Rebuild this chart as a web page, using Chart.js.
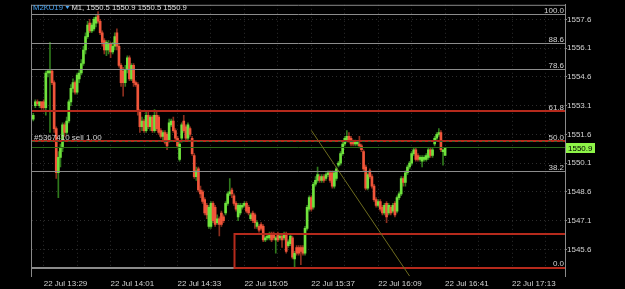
<!DOCTYPE html>
<html><head><meta charset="utf-8">
<style>html,body{margin:0;padding:0;background:#000;overflow:hidden}canvas{display:block}</style>
<script src="https://cdn.jsdelivr.net/npm/chart.js@4.4.1/dist/chart.umd.min.js"></script>
</head><body>
<canvas id="c" width="625" height="289"></canvas>
<script>
// ---------- data ----------
const symbol = 'M2KU19';
const timeframe = 'M1';
const dateLabel = '22 Jul';
const firstCandleTime = '13:24';

const openP = [
1552.4,1553.1,1553.3,1553.1,1553.3,1553.3,1553.0,1554.8,1554.8,1554.9,
1554.3,1551.9,1549.6,1550.4,1550.9,1552.1,1551.7,1552.3,1553.3,1554.0,
1554.3,1553.8,1554.5,1554.8,1555.3,1556.0,1556.7,1557.4,1557.0,1557.1,
1557.4,1557.8,1557.5,1556.9,1556.5,1556.0,1556.0,1556.3,1555.9,1556.2,
1556.9,1556.2,1555.2,1554.9,1554.3,1555.0,1555.6,1554.5,1555.2,1554.3,
1554.2,1552.8,1552.0,1552.3,1551.8,1552.6,1552.0,1552.5,1551.8,1552.6,
1552.5,1551.8,1551.5,1551.7,1551.6,1551.3,1552.1,1552.3,1551.8,1551.4,
1550.3,1551.4,1552.3,1552.0,1551.4,1551.9,1551.4,1550.5,1549.4,1549.8,
1548.7,1548.6,1548.2,1547.9,1546.8,1546.8,1548.0,1547.8,1547.0,1547.2,
1547.5,1547.3,1547.5,1548.0,1548.5,1548.7,1548.4,1548.0,1547.3,1547.5,
1547.8,1547.9,1548.0,1547.8,1547.2,1547.5,1547.4,1546.8,1546.8,1546.9,
1546.8,1546.1,1546.2,1546.2,1546.4,1546.4,1546.1,1546.4,1546.2,1546.3,
1546.2,1546.4,1545.8,1545.9,1546.2,1545.1,1545.7,1545.7,1545.7,1545.7,
1545.4,1546.7,1547.7,1548.3,1547.8,1549.0,1549.2,1549.4,1549.2,1549.4,
1549.3,1549.5,1549.6,1549.6,1548.9,1549.3,1550.0,1550.1,1550.6,1551.1,
1551.3,1551.5,1551.4,1551.2,1551.1,1551.1,1551.1,1551.0,1550.7,1549.9,
1548.8,1549.7,1549.4,1548.9,1548.2,1547.9,1548.1,1547.8,1547.5,1548.0,
1547.5,1547.8,1547.6,1548.0,1547.6,1548.3,1548.5,1549.3,1549.1,1549.6,
1549.9,1550.1,1550.6,1550.8,1550.5,1550.3,1550.2,1550.3,1550.3,1550.4,
1550.8,1550.5,1551.1,1551.4,1551.6,1551.7,1550.7,1550.5];

const highP = [
1552.7,1553.4,1553.4,1553.3,1553.3,1553.4,1554.9,1555.0,1556.4,1555.0,
1554.4,1552.0,1550.7,1551.1,1552.2,1552.2,1552.5,1553.4,1554.2,1554.5,
1554.4,1554.8,1555.0,1555.5,1556.2,1556.9,1557.5,1557.6,1557.4,1557.7,
1557.8,1558.0,1557.6,1557.0,1556.6,1556.5,1556.5,1556.4,1556.4,1556.9,
1557.1,1556.3,1555.3,1555.1,1555.2,1555.7,1555.7,1555.3,1555.3,1554.4,
1554.3,1552.9,1552.5,1552.4,1552.8,1552.8,1552.6,1552.6,1552.9,1552.8,
1552.6,1551.9,1551.8,1551.8,1551.7,1552.4,1552.4,1552.5,1551.9,1551.5,
1551.2,1552.2,1552.6,1552.1,1552.2,1552.0,1551.5,1550.6,1549.9,1549.9,
1548.9,1548.7,1548.3,1548.0,1547.9,1548.1,1548.1,1547.9,1547.4,1547.3,
1547.6,1547.4,1548.1,1548.6,1549.3,1548.8,1548.5,1548.1,1548.0,1548.0,
1548.0,1548.1,1548.1,1547.9,1547.5,1547.6,1547.5,1547.1,1546.9,1547.0,
1546.9,1546.3,1546.4,1546.5,1546.5,1546.5,1546.3,1546.5,1546.4,1546.4,
1546.5,1546.5,1546.1,1546.4,1546.3,1545.5,1545.8,1545.8,1545.8,1545.8,
1546.8,1547.9,1548.4,1548.4,1549.1,1549.4,1549.9,1549.5,1549.5,1549.5,
1549.6,1549.7,1549.7,1549.7,1549.7,1549.9,1550.2,1550.7,1551.2,1551.5,
1551.8,1551.7,1551.5,1551.3,1551.3,1551.2,1551.5,1551.1,1550.8,1550.0,
1549.6,1549.8,1549.5,1549.0,1548.3,1548.2,1548.2,1547.9,1548.0,1548.1,
1548.0,1547.9,1548.0,1548.1,1548.4,1548.6,1549.4,1549.4,1549.7,1550.0,
1550.2,1550.7,1550.9,1550.9,1550.6,1550.5,1550.5,1550.5,1550.6,1550.9,
1550.9,1550.9,1551.5,1551.7,1551.9,1551.8,1550.8,1550.9];

const lowP = [
1552.3,1553.0,1553.1,1553.0,1552.9,1552.9,1552.6,1554.6,1551.7,1554.2,
1551.7,1549.3,1548.3,1549.9,1550.7,1551.5,1551.6,1552.2,1553.1,1553.8,
1553.7,1553.7,1554.3,1554.7,1555.2,1555.8,1556.6,1556.9,1556.9,1557.0,
1557.2,1557.4,1556.8,1556.2,1555.8,1555.7,1555.8,1555.6,1555.8,1556.0,
1556.0,1555.1,1554.1,1553.6,1554.1,1554.8,1554.4,1554.4,1554.1,1554.1,
1552.6,1551.7,1551.8,1551.7,1551.7,1551.9,1551.8,1551.7,1551.7,1551.8,
1551.6,1551.4,1551.3,1551.1,1550.8,1551.2,1552.0,1551.7,1551.3,1550.9,
1550.2,1551.2,1551.7,1551.3,1551.3,1551.5,1550.5,1549.3,1549.2,1548.6,
1548.3,1548.0,1547.4,1547.2,1546.7,1546.7,1547.0,1546.8,1546.9,1546.3,
1546.8,1547.0,1547.4,1547.9,1548.4,1548.3,1547.9,1547.6,1547.1,1547.4,
1547.7,1547.8,1547.5,1547.4,1547.1,1547.0,1546.7,1546.7,1546.5,1546.6,
1546.0,1546.0,1546.1,1546.1,1546.0,1546.1,1545.4,1546.0,1546.1,1545.7,
1546.1,1545.4,1545.7,1545.8,1545.1,1544.7,1545.3,1545.3,1544.8,1545.3,
1545.3,1546.6,1547.6,1547.6,1547.7,1548.9,1549.1,1549.1,1549.1,1549.1,
1549.2,1549.4,1549.1,1548.8,1548.8,1549.2,1549.9,1550.0,1550.5,1551.0,
1551.2,1551.2,1551.0,1551.0,1551.0,1551.0,1550.9,1550.7,1549.7,1548.7,
1548.7,1549.3,1548.8,1548.1,1547.8,1547.8,1547.6,1547.4,1547.4,1547.0,
1547.4,1547.4,1547.5,1547.3,1547.5,1548.2,1548.4,1548.9,1548.9,1549.5,
1549.8,1550.0,1550.5,1550.2,1550.2,1550.2,1549.9,1550.2,1550.2,1550.3,
1550.4,1550.4,1551.0,1551.3,1551.5,1550.7,1550.0,1550.5];

const closeP = [
1552.6,1553.3,1553.2,1553.3,1553.0,1553.0,1554.8,1554.9,1554.9,1554.3,
1551.9,1549.6,1550.4,1550.9,1552.1,1551.7,1552.3,1553.3,1554.0,1554.3,
1553.8,1554.7,1554.8,1555.3,1556.0,1556.7,1557.3,1557.0,1557.3,1557.6,
1557.7,1557.5,1556.9,1556.4,1556.0,1556.4,1556.3,1555.9,1556.2,1556.7,
1556.2,1555.2,1554.3,1554.3,1555.0,1555.6,1554.5,1555.2,1554.3,1554.2,
1552.8,1552.0,1552.3,1551.8,1552.6,1552.0,1552.5,1551.8,1552.6,1551.9,
1551.7,1551.5,1551.7,1551.2,1551.0,1552.2,1552.3,1551.8,1551.4,1551.0,
1551.1,1552.1,1551.8,1551.4,1552.1,1551.6,1550.6,1549.4,1549.7,1548.7,
1548.5,1548.1,1547.5,1547.4,1547.8,1548.0,1547.1,1546.9,1547.2,1546.9,
1546.9,1547.1,1548.0,1548.5,1548.6,1548.5,1548.0,1547.7,1547.9,1547.9,
1547.9,1548.0,1547.6,1547.5,1547.4,1547.1,1547.0,1547.0,1546.6,1546.7,
1546.1,1546.2,1546.3,1546.4,1546.1,1546.2,1546.2,1546.1,1546.3,1546.1,
1546.4,1545.5,1546.0,1546.3,1545.2,1545.4,1545.4,1545.4,1545.5,1545.4,
1546.7,1547.8,1548.3,1547.7,1549.0,1549.2,1549.5,1549.2,1549.4,1549.2,
1549.5,1549.6,1549.2,1548.9,1549.6,1549.8,1550.1,1550.6,1551.1,1551.4,
1551.5,1551.3,1551.1,1551.1,1551.2,1551.2,1551.0,1550.8,1549.8,1548.8,
1549.5,1549.4,1548.9,1548.2,1547.9,1548.1,1547.7,1547.5,1547.9,1547.3,
1547.9,1547.5,1547.9,1547.4,1548.3,1548.5,1549.3,1549.1,1549.6,1549.9,
1550.1,1550.6,1550.8,1550.3,1550.3,1550.4,1550.4,1550.4,1550.5,1550.8,
1550.5,1550.8,1551.4,1551.6,1551.7,1550.8,1550.8,1550.9];

const timeTickLabels = ['13:29','14:01','14:33','15:05','15:37','16:09','16:41','17:13'];
const priceTicks = [1545.6,1547.1,1548.6,1550.1,1551.6,1553.1,1554.6,1556.1,1557.6];
const priceMin = 1544.63, priceMax = 1558.36;
const timeMin = 803.4, timeMax = 1058.35;           // minutes of day shown
const gridStepMinutes = 16;

const fibLevels = [0, 38.2, 50.0, 61.8, 78.6, 88.6, 100.0];
const fibLow = 1544.64, fibHigh = 1557.83;
const redLevels = [1552.82, 1551.27];
const boxStart = '15:00', boxTop = 1546.41, boxBottom = 1544.64;
const orderPrice = 1551.21, orderLabel = '#5367410 sell 1.00';
const bidPrice = 1550.9;
const trendStart = ['15:37', 1551.81], trendEnd = ['16:24', 1544.21];

// ---------- styles ----------
const bullBody = '#6fe23c', bearBody = '#f0553a';
const bullWick = '#2f7a1c', bearWick = '#8c2e1e';
const axisColor = '#8a8a8a', textColor = '#d2d2d2', gridColor = '#2c2c2c';
const redLine = '#b52a1c', fibColor = '#8c8c8c';
Chart.defaults.font.family = '"Liberation Sans", Arial, sans-serif';
Chart.defaults.font.size = 8;

const toMin = s => { const [h, m] = s.split(':').map(Number); return h * 60 + m; };
const fmt = t => String(Math.floor(t / 60)).padStart(2, '0') + ':' + String(t % 60).padStart(2, '0');
const startMin = toMin(firstCandleTime);
const candleTimes = openP.map((_, i) => fmt(startMin + i));
const xs = candleTimes.map(toMin);
const isBull = i => closeP[i] >= openP[i];
const bodyData = xs.map((x, i) => ({x, y: [Math.min(openP[i], closeP[i]), Math.max(openP[i], closeP[i])]}));
const wickData = xs.map((x, i) => ({x, y: [lowP[i], highP[i]]}));
const labelMinutes = timeTickLabels.map(toMin);
const gridMinutes = [];
for (let t = labelMinutes[0]; t <= timeMax; t += gridStepMinutes) gridMinutes.push(t);

const overlay = {
  id: 'overlay',
  beforeDraw(chart) {
    const c = chart.ctx; c.save(); c.fillStyle = '#000'; c.fillRect(0, 0, chart.width, chart.height); c.restore();
  },
  afterDatasetsDraw(chart) {
    const {ctx, chartArea: a, scales: {x, y}} = chart;
    const L = a.left, R = a.right;
    const py = (p, w) => { const v = y.getPixelForValue(p); return w % 2 ? Math.round(v - 0.5) + 0.5 : Math.round(v); };
    const hline = (p, color, w, dash, x0) => {
      const yy = py(p, w);
      ctx.save(); ctx.strokeStyle = color; ctx.lineWidth = w; ctx.setLineDash(dash || []);
      ctx.beginPath(); ctx.moveTo(x0 ?? L, yy); ctx.lineTo(R, yy); ctx.stroke(); ctx.restore();
      return yy;
    };
    const fibYs = fibLevels.map(lv => hline(fibLow + (fibHigh - fibLow) * lv / 100, fibColor, 1));
    redLevels.forEach(p => hline(p, redLine, 2));
    const bx = Math.round(x.getPixelForValue(toMin(boxStart))) + 0.5;
    const bt = py(boxTop, 2), bb = py(boxBottom, 2);
    ctx.save(); ctx.strokeStyle = redLine; ctx.lineWidth = 2;
    ctx.beginPath(); ctx.moveTo(R, bt); ctx.lineTo(bx, bt); ctx.lineTo(bx, bb); ctx.lineTo(R, bb); ctx.stroke();
    ctx.restore();
    hline(orderPrice, '#3d6530', 1, [3, 3]);
    hline(bidPrice, '#2b6a17', 1);
    ctx.save(); ctx.strokeStyle = '#6e6c1e'; ctx.lineWidth = 1;
    ctx.beginPath();
    ctx.moveTo(x.getPixelForValue(toMin(trendStart[0])), y.getPixelForValue(trendStart[1]));
    ctx.lineTo(x.getPixelForValue(toMin(trendEnd[0])), y.getPixelForValue(trendEnd[1]));
    ctx.stroke(); ctx.restore();
    ctx.save(); ctx.font = '8px "Liberation Sans", Arial, sans-serif'; ctx.fillStyle = textColor;
    ctx.textAlign = 'right'; ctx.textBaseline = 'alphabetic';
    fibLevels.forEach((lv, i) => ctx.fillText(lv.toFixed(1), R - 1, fibYs[i] - 2));
    ctx.textAlign = 'left';
    ctx.fillText(orderLabel, L + 2, py(orderPrice, 1) - 1.5);
    ctx.restore();
  },
  afterDraw(chart) {
    const {ctx, chartArea: a, scales: {y}} = chart;
    const L = a.left, R = a.right, T = a.top, B = a.bottom;
    ctx.save();
    ctx.strokeStyle = axisColor; ctx.lineWidth = 1;
    ctx.beginPath();
    ctx.moveTo(L - 0.5, T); ctx.lineTo(L - 0.5, B + 9);
    ctx.moveTo(L - 1, T + 0.5); ctx.lineTo(R + 1, T + 0.5);
    ctx.moveTo(R + 0.5, B); ctx.lineTo(R + 0.5, B + 9);
    ctx.stroke();
    const by = y.getPixelForValue(bidPrice);
    ctx.fillStyle = '#8ef548';
    ctx.fillRect(R + 1, Math.round(by - 5), 29, 10);
    ctx.fillStyle = '#000'; ctx.font = '8px "Liberation Sans", Arial, sans-serif';
    ctx.textAlign = 'left'; ctx.textBaseline = 'middle';
    ctx.fillText(bidPrice.toFixed(1), R + 3, by + 0.5);
    const last = openP.length - 1;
    ctx.font = '7.7px "Liberation Sans", Arial, sans-serif'; ctx.textBaseline = 'alphabetic';
    ctx.fillStyle = '#4aa6f5';
    ctx.fillText(symbol, L + 1, 10);
    const sw = ctx.measureText(symbol).width;
    const tx = L + 1 + sw + 2.5;
    ctx.beginPath(); ctx.moveTo(tx, 6); ctx.lineTo(tx + 4, 6); ctx.lineTo(tx + 2, 9); ctx.closePath(); ctx.fill();
    ctx.fillStyle = '#e2e2e2';
    ctx.fillText(timeframe + ', ' + [openP[last], highP[last], lowP[last], closeP[last]].map(v => v.toFixed(1)).join(' '), tx + 6, 10);
    ctx.restore();
  }
};

new Chart(document.getElementById('c'), {
  type: 'bar',
  data: {
    datasets: [
      { label: 'body', data: bodyData, order: 1, grouped: false, barThickness: 2, minBarLength: 1, borderWidth: 0,
        backgroundColor: c => isBull(c.dataIndex) ? bullBody : bearBody },
      { label: 'wick', data: wickData, order: 2, grouped: false, barThickness: 1, borderWidth: 0,
        backgroundColor: c => isBull(c.dataIndex) ? bullWick : bearWick }
    ]
  },
  options: {
    responsive: false, animation: false, devicePixelRatio: 1,
    layout: { padding: { left: 32, top: 1, right: 0, bottom: 0 } },
    plugins: { legend: { display: false }, tooltip: { enabled: false } },
    scales: {
      x: {
        type: 'linear', min: timeMin, max: timeMax, offset: false, position: 'bottom',
        grid: { color: gridColor, lineWidth: 1, drawTicks: false, offset: false },
        border: { display: true, color: axisColor, width: 1, dash: [1, 3] },
        ticks: { color: textColor, font: { size: 8 }, padding: 11, align: 'start', maxRotation: 0, minRotation: 0, autoSkip: false,
          callback: v => labelMinutes.includes(v) ? dateLabel + ' ' + timeTickLabels[labelMinutes.indexOf(v)] : '' },
        afterBuildTicks: s => { s.ticks = gridMinutes.map(v => ({ value: v })); },
        afterFit: s => { s.height = 21; }
      },
      y: {
        type: 'linear', position: 'right', min: priceMin, max: priceMax, beginAtZero: false,
        grid: { color: gridColor, lineWidth: 1, drawTicks: true, tickLength: 2, tickColor: axisColor },
        border: { display: true, color: axisColor, width: 1, dash: [1, 3] },
        ticks: { color: textColor, font: { size: 8 }, padding: 0, autoSkip: false, callback: v => v.toFixed(1) },
        afterBuildTicks: s => { s.ticks = priceTicks.map(v => ({ value: v })); },
        afterFit: s => { s.width = 60; }
      }
    }
  },
  plugins: [overlay]
});
</script>
</body></html>
